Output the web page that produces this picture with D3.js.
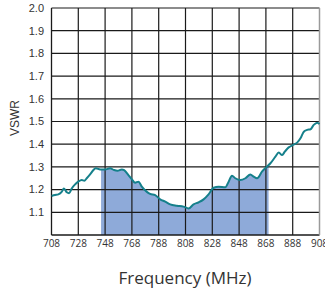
<!DOCTYPE html>
<html>
<head>
<meta charset="utf-8">
<script src="https://cdn.jsdelivr.net/npm/d3@7"></script>
<style>
  body { margin: 0; background: #fff; }
  svg { display: block; }
</style>
</head>
<body>
<div id="chart"></div>
<script>
const width = 325;
const height = 293;

const freq = [708.1, 710.6, 713.1, 715.6, 717.3, 719.4, 721.1, 723.1, 725.6, 728.0,
  730.6, 732.5, 734.3, 736.8, 739.3, 741.0, 744.3, 748.0, 751.7, 754.7,
  757.2, 760.5, 762.2, 765.4, 768.0, 770.4, 772.9, 775.4, 779.2, 781.6,
  785.4, 789.1, 792.9, 796.6, 801.6, 806.5, 810.3, 814.0, 817.8, 821.5,
  825.2, 829.0, 832.7, 837.7, 840.2, 842.7, 845.2, 848.9, 852.7, 856.4,
  858.9, 861.4, 865.2, 868.2, 871.4, 875.1, 877.6, 880.1, 882.1, 885.0,
  888.0, 891.3, 893.8, 896.3, 898.8, 901.3, 903.7, 906.3, 908.0];
const vswr = [1.172, 1.176, 1.179, 1.19, 1.205, 1.188, 1.184, 1.205, 1.223, 1.235,
  1.242, 1.239, 1.25, 1.267, 1.286, 1.294, 1.289, 1.288, 1.294, 1.286,
  1.283, 1.289, 1.286, 1.264, 1.245, 1.23, 1.235, 1.213, 1.19, 1.181,
  1.176, 1.157, 1.147, 1.135, 1.129, 1.125, 1.117, 1.135, 1.144, 1.157,
  1.179, 1.208, 1.213, 1.21, 1.235, 1.261, 1.25, 1.242, 1.25, 1.267,
  1.257, 1.25, 1.28, 1.298, 1.316, 1.345, 1.363, 1.352, 1.367, 1.386,
  1.396, 1.407, 1.426, 1.455, 1.463, 1.466, 1.485, 1.495, 1.489];

const xTicks = [708, 728, 748, 768, 788, 808, 828, 848, 868, 888, 908];
const yTicks = [1.1, 1.2, 1.3, 1.4, 1.5, 1.6, 1.7, 1.8, 1.9, 2.0];
const band = [745, 870];

const data = freq.map((f, i) => ({ f: f, v: vswr[i] }));

const x = d3.scaleLinear().domain([708, 908]).range([51.5, 319.5]);
const y = d3.scaleLinear().domain([1.0, 2.0]).range([235, 8]);

const svg = d3.select("#chart").append("svg")
  .attr("width", width)
  .attr("height", height);

// shaded band under the curve
const bandData = [];
bandData.push({ f: band[0], v: vswr[15] + (vswr[16] - vswr[15]) * (band[0] - freq[15]) / (freq[16] - freq[15]) });
data.forEach(d => { if (d.f > band[0] && d.f < band[1]) bandData.push(d); });
bandData.push({ f: band[1], v: vswr[53] + (vswr[54] - vswr[53]) * (band[1] - freq[53]) / (freq[54] - freq[53]) });

const area = d3.area()
  .x(d => x(d.f))
  .y0(y(1.0))
  .y1(d => y(d.v))
  .curve(d3.curveMonotoneX);

svg.append("path")
  .datum(bandData)
  .attr("d", area)
  .attr("fill", "#8eaad9");

// grid
const grid = svg.append("g").attr("stroke", "#1a1a1a").attr("stroke-width", 1.2);
grid.selectAll("line.h")
  .data(yTicks)
  .enter().append("line")
    .attr("x1", x(708)).attr("x2", x(908))
    .attr("y1", d => y(d)).attr("y2", d => y(d));
grid.selectAll("line.v")
  .data(xTicks.slice(1, -1))
  .enter().append("line")
    .attr("x1", d => x(d)).attr("x2", d => x(d))
    .attr("y1", y(1.0)).attr("y2", y(2.0));

// frame
svg.append("line")
  .attr("x1", x(708)).attr("x2", x(708))
  .attr("y1", y(1.0)).attr("y2", y(2.0))
  .attr("stroke", "#1a1a1a").attr("stroke-width", 1.3);
svg.append("line")
  .attr("x1", x(708)).attr("x2", x(908))
  .attr("y1", y(1.0)).attr("y2", y(1.0))
  .attr("stroke", "#1a1a1a").attr("stroke-width", 1.3);
svg.append("line")
  .attr("x1", x(908)).attr("x2", x(908))
  .attr("y1", y(1.0)).attr("y2", y(2.0))
  .attr("stroke", "#9a9a9a").attr("stroke-width", 1.5);

// vswr curve
const line = d3.line()
  .x(d => x(d.f))
  .y(d => y(d.v))
  .curve(d3.curveMonotoneX);

svg.append("path")
  .datum(data)
  .attr("d", line)
  .attr("fill", "none")
  .attr("stroke", "#15808b")
  .attr("stroke-width", 2);

// axis labels
svg.append("g")
  .selectAll("text")
  .data(yTicks)
  .enter().append("text")
    .attr("x", 44)
    .attr("y", d => y(d))
    .attr("dy", "0.35em")
    .attr("text-anchor", "end")
    .attr("font-family", "Liberation Sans, Arial, sans-serif")
    .attr("font-size", 11)
    .attr("fill", "#333")
    .text(d => d.toFixed(1));

svg.append("g")
  .selectAll("text")
  .data(xTicks)
  .enter().append("text")
    .attr("x", d => x(d))
    .attr("y", 247)
    .attr("text-anchor", "middle")
    .attr("font-family", "Open Sans, sans-serif")
    .attr("font-size", 10)
    .attr("fill", "#333")
    .text(d => d);

svg.append("text")
  .attr("transform", "translate(19,118) rotate(-90)")
  .attr("text-anchor", "middle")
  .attr("font-family", "Liberation Sans, Arial, sans-serif")
  .attr("font-size", 12)
  .attr("fill", "#333")
  .text("VSWR");

svg.append("text")
  .attr("x", 185)
  .attr("y", 284)
  .attr("text-anchor", "middle")
  .attr("font-family", "Open Sans, sans-serif")
  .attr("font-size", 17)
  .attr("fill", "#333")
  .text("Frequency (MHz)");
</script>
</body>
</html>
